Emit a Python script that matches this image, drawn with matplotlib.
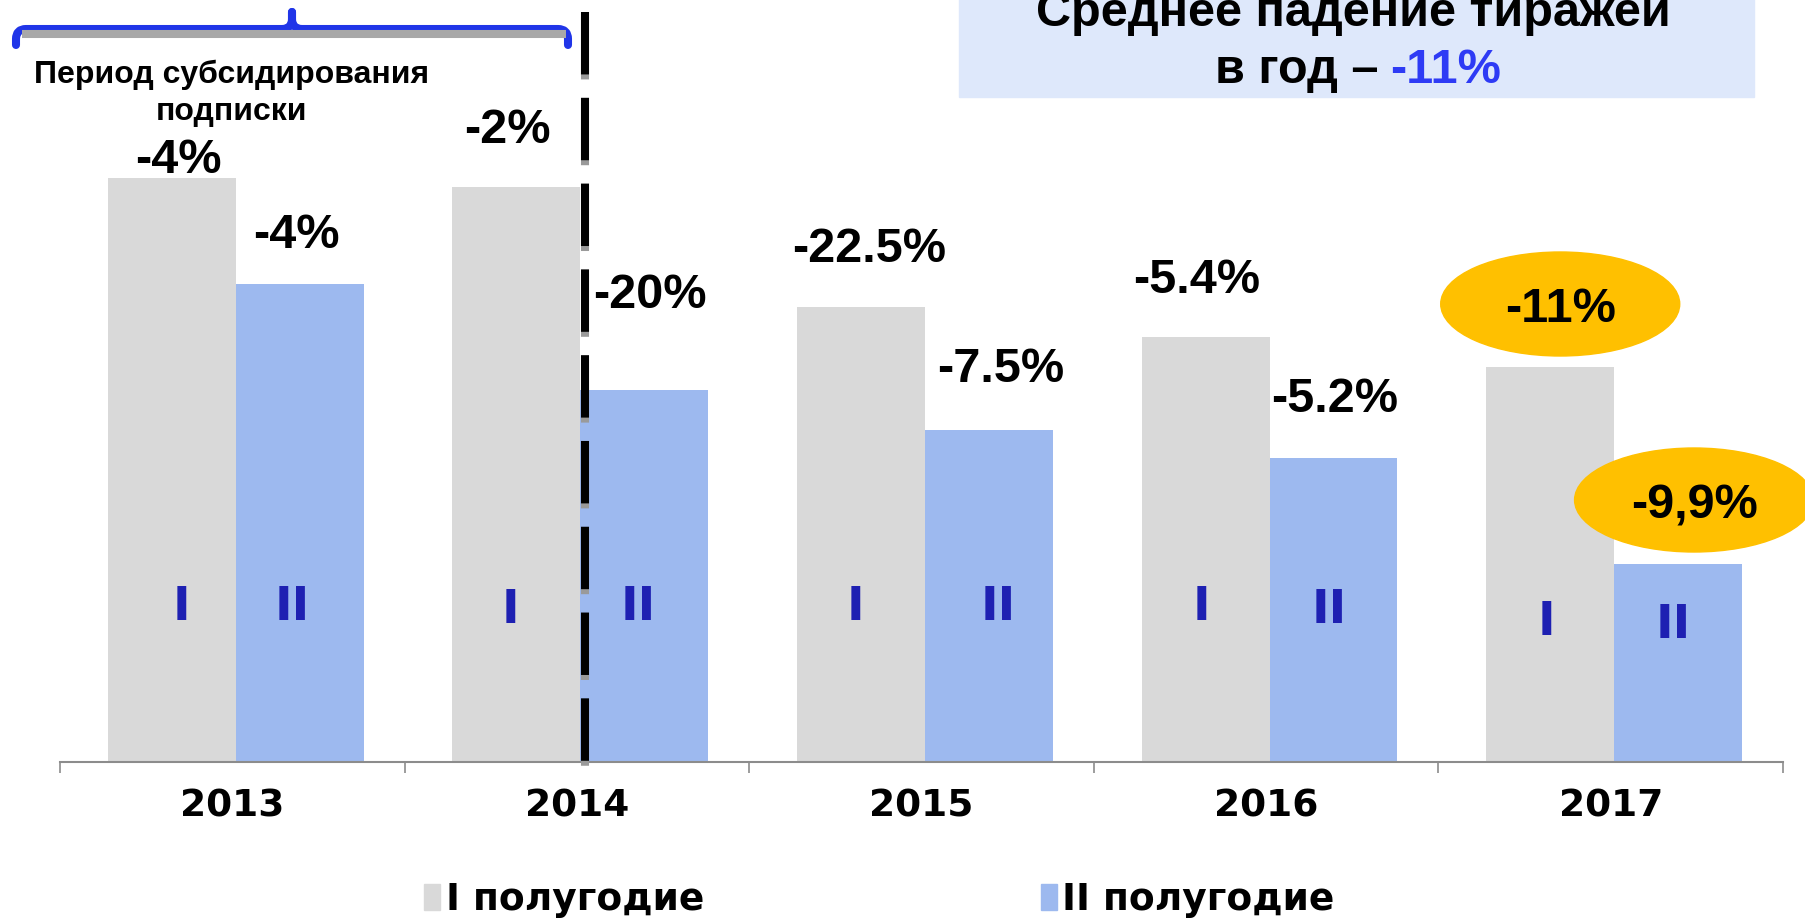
import matplotlib
matplotlib.use("Agg")
import matplotlib.pyplot as plt
import numpy as np
from matplotlib.patches import Ellipse, Rectangle, Patch, PathPatch
from matplotlib.path import Path

# --- data ---
years = ["2013", "2014", "2015", "2016", "2017"]
half1 = [584, 575, 455, 425, 395]    # I полугодие, bar heights (relative)
half2 = [478, 372, 332, 304, 198]    # II полугодие
labels1 = ["-4%", "-2%", "-22.5%", "-5.4%", "-11%"]
labels2 = ["-4%", "-20%", "-7.5%", "-5.2%", "-9,9%"]
legend_names = ["I полугодие", "II полугодие"]
title_lines = ["Среднее падение тиражей", "в год –", "-11%"]
brace_text = "Период субсидирования\nподписки"

# --- layout (pixels) ---
W, H = 1806, 921
lift1 = [5, 44, 45, 44, 45]       # label baseline above bar top
lift2 = [36, 82, 48, 46, 46]
shift1 = [7, -9, 8, -9, 10]       # label x shift from bar centre
shift2 = [-3, 6, 12, 1, 16]
num_base1 = [142, 139, 142, 142, 127]   # baseline of the roman numerals
num_base2 = [142, 142, 142, 139, 124]
num_shift1 = [10, -6, -6, -4, -4]
num_shift2 = [-7, -6, 9, -4, -5]

GRAY = "#D9D9D9"
BLUE = "#9DB9EF"
NUM_COLOR = "#1E20B2"
GOLD = "#FFC000"
BRACE = "#2035E8"
px = 0.72  # pixel -> points at dpi 100

fig = plt.figure(figsize=(W / 100, H / 100), dpi=100)
ax = fig.add_axes([60 / W, 159 / H, (1783 - 60) / W, 762 / H])
ax.set_xlim(-0.5, 4.5)
ax.set_ylim(0, 762)
unit = (1783 - 60) / 5  # px per category

x = np.arange(len(years))
xb = x + 0.01
bw = 0.371
ax.bar(xb, half1, width=-bw, align="edge", color=GRAY, zorder=2)
ax.bar(xb, half2, width=bw, align="edge", color=BLUE, zorder=2)

lab_font = dict(family="Liberation Sans", weight="bold", size=35)
num_font = dict(family="DejaVu Sans", weight="bold", size=34)
for i in range(len(years)):
    c1 = xb[i] - bw / 2
    c2 = xb[i] + bw / 2
    if i == len(years) - 1:
        # highlighted last year, labels in yellow ovals
        for c, h, lf, sh in [(c1, half1[i], lift1[i], shift1[i]),
                             (c2, half2[i], lift2[i], shift2[i])]:
            ax.add_patch(Ellipse((c + sh / unit, h + lf + 18), 239 / unit, 104,
                                 color=GOLD, zorder=3, clip_on=False))
    ax.annotate(labels1[i], (c1, half1[i]), xytext=(shift1[i] * px, lift1[i] * px),
                textcoords="offset points", ha="center", va="baseline",
                zorder=4, annotation_clip=False, **lab_font)
    ax.annotate(labels2[i], (c2, half2[i]), xytext=(shift2[i] * px, lift2[i] * px),
                textcoords="offset points", ha="center", va="baseline",
                zorder=4, annotation_clip=False, **lab_font)
    ax.text(c1 + num_shift1[i] / unit, num_base1[i], "I", color=NUM_COLOR,
            ha="center", va="baseline", zorder=4, **num_font)
    ax.text(c2 + num_shift2[i] / unit, num_base2[i], "II", color=NUM_COLOR,
            ha="center", va="baseline", zorder=4, **num_font)

# dashed divider after the subsidy period
xd = 1.01 + 5 / unit
ax.plot([xd, xd], [745, -8], color="#9A9A9A", lw=5.8, dashes=(7.75, 2.9),
        zorder=4, clip_on=False)
ax.plot([xd, xd], [750, -3], color="black", lw=5.8, dashes=(7.75, 2.9),
        zorder=5, clip_on=False)

# axis styling
for s in ["left", "right", "top"]:
    ax.spines[s].set_visible(False)
ax.spines["bottom"].set_color("#8C8C8C")
ax.spines["bottom"].set_linewidth(1.5)
ax.set_yticks([])
ax.set_xticks(x, years)
ax.set_xticks(np.arange(-0.5, 5, 1), minor=True)
ax.tick_params(axis="x", which="major", length=0, pad=19)
ax.tick_params(axis="x", which="minor", length=8, width=1.2, color="#8C8C8C")
for t in ax.get_xticklabels():
    t.set_fontfamily("DejaVu Sans")
    t.set_fontweight("bold")
    t.set_fontsize(27)

fig.legend(handles=[Patch(color=GRAY), Patch(color=BLUE)], labels=legend_names,
           loc="center left", bbox_to_anchor=(424 / W, 1 - 900 / H), ncol=2,
           frameon=False, prop=dict(family="DejaVu Sans", weight="bold", size=27),
           handlelength=0.43, handleheight=0.7, handletextpad=0.15,
           columnspacing=8.97, borderpad=0, borderaxespad=0)

# overlay in pixel space for the decorations
ov = fig.add_axes([0, 0, 1, 1], zorder=5)
ov.set_xlim(0, W)
ov.set_ylim(H, 0)
ov.axis("off")
ov.patch.set_alpha(0)

ov.add_patch(Rectangle((959, -5), 795, 102, color="#DEE8FB"))
ttl = dict(family="Liberation Sans", weight="bold", size=35)
ov.text(1353, 26, title_lines[0], ha="center", va="baseline", **ttl)
ov.text(1379, 83, title_lines[1], ha="right", va="baseline", **ttl)
ov.text(1390, 83, title_lines[2], ha="left", va="baseline", color="#2E3BF5", **ttl)

# curly brace over the subsidy period
ov.plot([22, 566], [34, 34], color="#A8A8A8", lw=5.8, solid_capstyle="butt")
for sgn in (1, -1):
    cx = 292
    xs = lambda d: cx - sgn * d
    verts = [(xs(276), 45), (xs(276), 39), (xs(276), 29), (xs(266), 29),
             (xs(10), 29), (xs(0), 29), (xs(0), 19), (xs(0), 12)]
    codes = [Path.MOVETO, Path.LINETO, Path.CURVE3, Path.CURVE3,
             Path.LINETO, Path.CURVE3, Path.CURVE3, Path.LINETO]
    ov.add_patch(PathPatch(Path(verts, codes), fill=False, edgecolor=BRACE,
                           lw=5.8, capstyle="round", joinstyle="round"))
ov.text(232, 83, brace_text.split("\n")[0], ha="center", va="baseline",
        family="Liberation Sans", weight="bold", size=23)
ov.text(232, 120, brace_text.split("\n")[1], ha="center", va="baseline",
        family="Liberation Sans", weight="bold", size=23)

fig.savefig("out.png", dpi=100)
